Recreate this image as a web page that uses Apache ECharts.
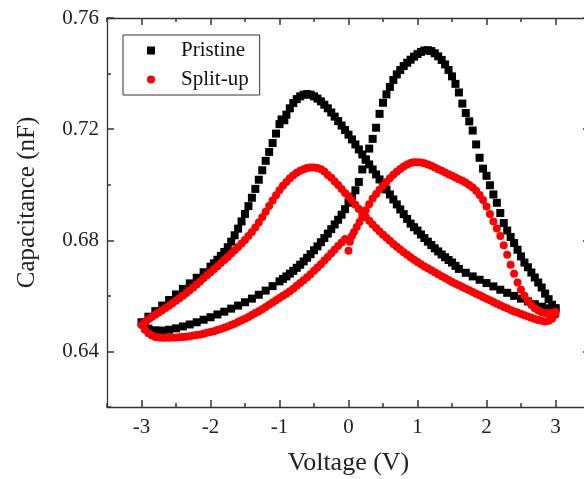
<!DOCTYPE html>
<html>
<head>
<meta charset="utf-8">
<script src="https://cdn.jsdelivr.net/npm/echarts@6/dist/echarts.min.js"></script>
<style>
html,body{margin:0;padding:0;background:#fff;}
#chart{width:584px;height:479px;}
</style>
</head>
<body>
<div id="chart"></div>
<script>
// ---------------- data ----------------
const seriesNames = ['Pristine', 'Split-up'];
const xAxisTitle = 'Voltage (V)';
const yAxisTitle = 'Capacitance (nF)';
// tick layout: labelled x ticks every 1 V from -3 to 3, labelled y ticks every 0.04 nF from 0.64 to 0.76
const xLabelRange = [-3, 3, 1];
const xFrameRange = [-3.5, 3.5, 0.5];
const yLabelRange = [0.64, 0.76, 0.04];
const yFrameRange = [0.62, 0.76, 0.02];

// Pristine: branch with peak on the left
const pristineBranchLeftPeak = [
 [-3.0,0.6505],[-2.9,0.6525],[-2.8,0.6545],[-2.7,0.6565],[-2.6,0.6585],[-2.5,0.6605],[-2.4,0.6625],[-2.3,0.6645],
 [-2.2,0.6665],[-2.1,0.6685],[-2.0,0.6705],[-1.95,0.6717],[-1.9,0.673],[-1.85,0.6744],[-1.8,0.6758],[-1.75,0.6775],
 [-1.7,0.6795],[-1.65,0.6818],[-1.6,0.6842],[-1.55,0.6868],[-1.5,0.6895],[-1.45,0.6923],[-1.4,0.6953],[-1.35,0.6985],
 [-1.3,0.7018],[-1.25,0.7052],[-1.2,0.7086],[-1.15,0.7118],[-1.1,0.715],[-1.05,0.7184],[-1.0,0.7218],[-0.97,0.7235],
 [-0.93,0.7232],[-0.9,0.7252],[-0.85,0.7275],[-0.8,0.7294],[-0.75,0.7308],[-0.7,0.7318],[-0.65,0.7324],[-0.6,0.7326],
 [-0.55,0.7324],[-0.5,0.7318],[-0.45,0.731],[-0.4,0.73],[-0.35,0.7288],[-0.3,0.7275],[-0.25,0.726],[-0.2,0.7245],
 [-0.15,0.7229],[-0.1,0.7213],[-0.05,0.7197],[0.0,0.718],[0.05,0.7163],[0.1,0.7145],[0.15,0.7127],[0.2,0.7109],
 [0.25,0.7091],[0.3,0.7073],[0.35,0.7055],[0.4,0.7037],[0.45,0.7019],[0.5,0.7001],[0.55,0.6983],[0.6,0.6965],
 [0.65,0.6947],[0.7,0.6929],[0.75,0.6911],[0.8,0.6894],[0.85,0.6877],[0.9,0.686],[0.95,0.6847],[1.0,0.6835],
 [1.05,0.6821],[1.1,0.6808],[1.15,0.6795],[1.2,0.6783],[1.25,0.6771],[1.3,0.676],[1.35,0.6749],[1.4,0.6739],
 [1.45,0.6729],[1.5,0.672],[1.55,0.6708],[1.6,0.6697],[1.7,0.6683],[1.8,0.667],[1.9,0.6658],[2.0,0.6646],
 [2.1,0.6634],[2.2,0.6622],[2.3,0.6611],[2.4,0.66],[2.5,0.659],[2.6,0.658],[2.7,0.657],[2.8,0.6561],
 [2.9,0.6555],[3.0,0.6555]
];
// Pristine: branch with peak on the right
const pristineBranchRightPeak = [
 [-2.95,0.649],[-2.9,0.6482],[-2.8,0.6476],[-2.7,0.6475],[-2.6,0.6478],[-2.5,0.6483],[-2.4,0.649],[-2.3,0.6497],
 [-2.2,0.6505],[-2.1,0.6514],[-2.0,0.6523],[-1.9,0.6533],[-1.8,0.6543],[-1.7,0.6554],[-1.6,0.6565],[-1.5,0.6577],
 [-1.4,0.659],[-1.3,0.6604],[-1.2,0.6619],[-1.1,0.6635],[-1.0,0.6652],[-0.95,0.6661],[-0.9,0.667],[-0.85,0.668],
 [-0.8,0.669],[-0.75,0.6701],[-0.7,0.6712],[-0.65,0.6724],[-0.6,0.6737],[-0.55,0.675],[-0.5,0.6764],[-0.45,0.6778],
 [-0.4,0.6793],[-0.35,0.6808],[-0.3,0.6824],[-0.25,0.684],[-0.2,0.6857],[-0.15,0.6874],[-0.1,0.6892],[-0.05,0.6912],
 [0.0,0.6935],[0.05,0.6957],[0.1,0.698],[0.15,0.701],[0.2,0.7055],[0.25,0.709],[0.3,0.713],[0.35,0.7165],
 [0.4,0.7205],[0.45,0.7255],[0.5,0.7295],[0.55,0.7325],[0.6,0.7352],[0.65,0.7377],[0.7,0.7397],[0.75,0.7413],
 [0.8,0.7427],[0.85,0.7439],[0.9,0.745],[0.95,0.7461],[1.0,0.747],[1.05,0.7478],[1.1,0.7483],[1.15,0.7484],
 [1.2,0.7481],[1.25,0.7473],[1.3,0.7462],[1.35,0.7449],[1.4,0.7433],[1.45,0.7413],[1.5,0.739],[1.55,0.7363],
 [1.6,0.7332],[1.65,0.7292],[1.7,0.7258],[1.75,0.7228],[1.8,0.7195],[1.85,0.7145],[1.9,0.7097],[1.95,0.7058],
 [2.0,0.7032],[2.05,0.6998],[2.1,0.6965],[2.15,0.6935],[2.2,0.6898],[2.25,0.6862],[2.3,0.6835],[2.35,0.6812],
 [2.4,0.679],[2.45,0.6766],[2.5,0.6742],[2.55,0.672],[2.6,0.6703],[2.65,0.6684],[2.7,0.6666],[2.75,0.6648],
 [2.8,0.663],[2.85,0.6608],[2.9,0.6588],[2.95,0.6568],[3.0,0.6555]
];
// Split-up: branch with peak on the left
const splitBranchLeftPeak = [
 [-3.0,0.6495],[-2.95,0.6505],[-2.9,0.6516],[-2.85,0.6524],[-2.8,0.6532],[-2.75,0.654],[-2.7,0.6548],[-2.65,0.6556],
 [-2.6,0.6564],[-2.55,0.6573],[-2.5,0.6582],[-2.45,0.6591],[-2.4,0.66],[-2.35,0.661],[-2.3,0.662],[-2.25,0.663],
 [-2.2,0.6641],[-2.15,0.6652],[-2.1,0.6663],[-2.05,0.6674],[-2.0,0.6685],[-1.95,0.6696],[-1.9,0.6707],[-1.85,0.6718],
 [-1.8,0.6729],[-1.75,0.674],[-1.7,0.6752],[-1.65,0.6764],[-1.6,0.6776],[-1.55,0.6788],[-1.5,0.6801],[-1.45,0.6815],
 [-1.4,0.683],[-1.35,0.6846],[-1.3,0.6864],[-1.25,0.6883],[-1.2,0.6903],[-1.15,0.6923],[-1.1,0.6943],[-1.05,0.6962],
 [-1.0,0.698],[-0.95,0.6996],[-0.9,0.701],[-0.85,0.7023],[-0.8,0.7034],[-0.75,0.7043],[-0.7,0.705],[-0.65,0.7056],
 [-0.6,0.706],[-0.55,0.7062],[-0.5,0.7062],[-0.45,0.706],[-0.4,0.7056],[-0.35,0.7048],[-0.3,0.7035],[-0.25,0.7025],
 [-0.2,0.7012],[-0.15,0.6999],[-0.1,0.6985],[-0.05,0.697],[0.0,0.6958],[0.05,0.6943],[0.1,0.6928],[0.15,0.6913],
 [0.2,0.6898],[0.25,0.6884],[0.3,0.687],[0.35,0.6857],[0.4,0.6844],[0.45,0.6832],[0.5,0.682],[0.55,0.6809],
 [0.6,0.6798],[0.65,0.6787],[0.7,0.6777],[0.75,0.6767],[0.8,0.6757],[0.85,0.6748],[0.9,0.6739],[0.95,0.673],
 [1.0,0.6722],[1.05,0.6714],[1.1,0.6706],[1.15,0.6699],[1.2,0.6692],[1.25,0.6685],[1.3,0.6678],[1.35,0.6671],
 [1.4,0.6664],[1.45,0.6657],[1.5,0.665],[1.55,0.6644],[1.6,0.6638],[1.65,0.6632],[1.7,0.6626],[1.75,0.662],
 [1.8,0.6614],[1.85,0.6608],[1.9,0.6602],[1.95,0.6596],[2.0,0.659],[2.05,0.6584],[2.1,0.6578],[2.15,0.6572],
 [2.2,0.6566],[2.25,0.656],[2.3,0.6555],[2.35,0.6549],[2.4,0.6544],[2.45,0.654],[2.5,0.6535],[2.55,0.653],
 [2.6,0.6526],[2.65,0.6521],[2.7,0.6517],[2.75,0.6513],[2.8,0.651],[2.85,0.6508],[2.9,0.651],[2.95,0.6518],
 [3.0,0.6532]
];
// Split-up: branch with peak on the right
const splitBranchRightPeak = [
 [-2.95,0.6478],[-2.9,0.6465],[-2.85,0.6457],[-2.8,0.6452],[-2.75,0.645],[-2.7,0.6449],[-2.65,0.6449],[-2.6,0.6449],
 [-2.55,0.645],[-2.5,0.645],[-2.45,0.6451],[-2.4,0.6452],[-2.35,0.6453],[-2.3,0.6455],[-2.25,0.6457],[-2.2,0.6459],
 [-2.15,0.6461],[-2.1,0.6464],[-2.05,0.6467],[-2.0,0.647],[-1.95,0.6473],[-1.9,0.6477],[-1.85,0.6481],[-1.8,0.6485],
 [-1.75,0.649],[-1.7,0.6495],[-1.65,0.65],[-1.6,0.6506],[-1.55,0.6512],[-1.5,0.6518],[-1.45,0.6524],[-1.4,0.6531],
 [-1.35,0.6538],[-1.3,0.6545],[-1.25,0.6552],[-1.2,0.656],[-1.15,0.6568],[-1.1,0.6576],[-1.05,0.6584],[-1.0,0.6592],
 [-0.95,0.66],[-0.9,0.6608],[-0.85,0.6617],[-0.8,0.6626],[-0.75,0.6636],[-0.7,0.6646],[-0.65,0.6656],[-0.6,0.6667],
 [-0.55,0.6678],[-0.5,0.669],[-0.45,0.6702],[-0.4,0.6714],[-0.35,0.6727],[-0.3,0.674],[-0.25,0.6753],[-0.2,0.6766],
 [-0.15,0.6779],[-0.1,0.6792],[-0.05,0.6805],[0.0,0.6762],[0.02,0.6795],[0.05,0.6815],[0.08,0.683],[0.12,0.6848],
 [0.16,0.6866],[0.2,0.6884],[0.25,0.6908],[0.3,0.693],[0.35,0.695],[0.4,0.6967],[0.45,0.6982],[0.5,0.6996],
 [0.55,0.701],[0.6,0.7023],[0.65,0.7036],[0.7,0.7047],[0.75,0.7057],[0.8,0.7066],[0.85,0.7073],[0.9,0.7078],
 [0.95,0.7081],[1.0,0.7081],[1.05,0.708],[1.1,0.7077],[1.15,0.7073],[1.2,0.7068],[1.25,0.7062],[1.3,0.7056],
 [1.35,0.705],[1.4,0.7044],[1.45,0.7038],[1.5,0.7032],[1.55,0.7026],[1.6,0.702],[1.65,0.7014],[1.7,0.7007],
 [1.75,0.6999],[1.8,0.699],[1.85,0.6978],[1.9,0.6963],[1.95,0.6945],[2.0,0.6922],[2.05,0.6895],[2.1,0.6868],
 [2.15,0.6842],[2.2,0.6815],[2.25,0.6782],[2.3,0.6748],[2.35,0.6712],[2.4,0.668],[2.45,0.6648],[2.5,0.6622],
 [2.55,0.66],[2.6,0.6582],[2.65,0.6567],[2.7,0.6555],[2.75,0.6547],[2.8,0.6541],[2.85,0.6538],[2.9,0.6537],
 [2.95,0.6539],[3.0,0.6542]
];

// ---------------- chart ----------------
const FONT = "'Liberation Serif','Times New Roman',serif";
const AXIS_COLOR = '#333333';
const LABEL_COLOR = '#222';
const chart = echarts.init(document.getElementById('chart'), null, {renderer: 'canvas'});

// plot frame geometry (pixels)
const PLOT = {left: 107, right: -6, top: 18, bottom: 72};
const pxPerV = (584 - PLOT.left - PLOT.right) / (xFrameRange[1] - xFrameRange[0]);
const pxPerNF = (479 - PLOT.top - PLOT.bottom) / (yFrameRange[1] - yFrameRange[0]);

function axis(o) {
  const base = {
    type: 'value',
    splitLine: {show: false},
    axisLine: {show: false, onZero: false, lineStyle: {color: AXIS_COLOR, width: 1.3}},
    axisLabel: {show: false},
    axisTick: {show: false},
    silent: true
  };
  const out = Object.assign({}, base, o);
  out.axisLine = Object.assign({}, base.axisLine, o.axisLine || {});
  return out;
}
function ticks(len) {
  return {show: true, inside: true, length: len, lineStyle: {color: AXIS_COLOR, width: 1.5}};
}

const option = {
  backgroundColor: '#ffffff',
  animation: false,
  grid: [
    // 0: main plot
    {left: PLOT.left, right: PLOT.right, top: PLOT.top, bottom: PLOT.bottom, containLabel: false, outerBoundsMode: 'none'},
    // 1: same pixel scale, spanning the labelled x range only (major x ticks)
    {left: PLOT.left + (xLabelRange[0] - xFrameRange[0]) * pxPerV,
     right: PLOT.right + (xFrameRange[1] - xLabelRange[1]) * pxPerV,
     top: PLOT.top, bottom: PLOT.bottom, containLabel: false, outerBoundsMode: 'none'},
    // 2: same pixel scale, spanning the labelled y range only (major y ticks)
    {left: PLOT.left, right: PLOT.right,
     top: PLOT.top + (yFrameRange[1] - yLabelRange[1]) * pxPerNF,
     bottom: PLOT.bottom + (yLabelRange[0] - yFrameRange[0]) * pxPerNF,
     containLabel: false, outerBoundsMode: 'none'}
  ],
  legend: {
    orient: 'vertical',
    left: 123, top: 35,
    padding: [5, 11, 5, 24],
    itemWidth: 8, itemHeight: 8, itemGap: 8,
    borderColor: '#333', borderWidth: 1,
    textStyle: {fontFamily: FONT, fontSize: 21, color: '#111', lineHeight: 20, padding: [0, 0, 0, 21]},
    data: seriesNames
  },
  xAxis: [
    axis({gridIndex: 0, position: 'bottom', min: xFrameRange[0], max: xFrameRange[1], interval: xFrameRange[2],
          axisLine: {show: true}, axisTick: ticks(4)}),
    axis({gridIndex: 0, position: 'top', min: xFrameRange[0], max: xFrameRange[1], interval: xFrameRange[2],
          axisLine: {show: true}, axisTick: ticks(4)}),
    axis({gridIndex: 1, position: 'bottom', min: xLabelRange[0], max: xLabelRange[1], interval: xLabelRange[2],
          axisTick: ticks(7),
          axisLabel: {show: true, margin: 10, fontFamily: FONT, fontSize: 21, color: LABEL_COLOR, formatter: v => String(v)},
          name: xAxisTitle, nameLocation: 'middle', nameGap: 43,
          nameTextStyle: {fontFamily: FONT, fontSize: 26, color: LABEL_COLOR}}),
    axis({gridIndex: 1, position: 'top', min: xLabelRange[0], max: xLabelRange[1], interval: xLabelRange[2],
          axisTick: ticks(7)}),
    axis({gridIndex: 2, show: false, min: xFrameRange[0], max: xFrameRange[1]})
  ],
  yAxis: [
    axis({gridIndex: 0, position: 'left', min: yFrameRange[0], max: yFrameRange[1], interval: yFrameRange[2],
          axisLine: {show: true}, axisTick: ticks(4),
          name: yAxisTitle, nameLocation: 'middle', nameGap: 67, nameRotate: 90,
          nameTextStyle: {fontFamily: FONT, fontSize: 25, color: LABEL_COLOR, padding: [0, 0, 0, 20]}}),
    axis({gridIndex: 0, position: 'right', min: yFrameRange[0], max: yFrameRange[1], interval: yFrameRange[2],
          axisLine: {show: true}, axisTick: ticks(4)}),
    axis({gridIndex: 1, show: false, min: 0, max: 1}),
    axis({gridIndex: 2, position: 'left', min: yLabelRange[0], max: yLabelRange[1], interval: yLabelRange[2],
          axisTick: ticks(7),
          axisLabel: {show: true, margin: 8, fontFamily: FONT, fontSize: 21, color: LABEL_COLOR, formatter: v => v.toFixed(2)}}),
    axis({gridIndex: 2, position: 'right', min: yLabelRange[0], max: yLabelRange[1], interval: yLabelRange[2],
          axisTick: ticks(7)})
  ],
  series: [
    {
      name: seriesNames[0], type: 'scatter', xAxisIndex: 0, yAxisIndex: 0,
      symbol: 'rect', symbolSize: 8,
      itemStyle: {color: '#000000', opacity: 1},
      data: pristineBranchLeftPeak.concat(pristineBranchRightPeak),
      z: 2
    },
    {
      name: seriesNames[1], type: 'scatter', xAxisIndex: 0, yAxisIndex: 0,
      symbol: 'circle', symbolSize: 8,
      itemStyle: {color: '#ff0000', opacity: 1},
      data: splitBranchLeftPeak.concat(splitBranchRightPeak),
      z: 3
    }
  ]
};
chart.setOption(option);
</script>
</body>
</html>
